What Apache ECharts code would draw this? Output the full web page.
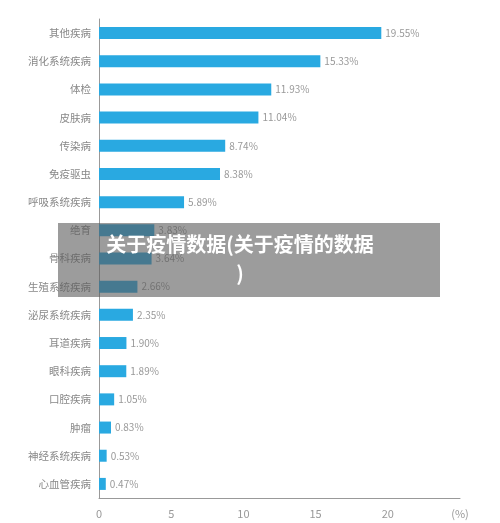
<!DOCTYPE html>
<html><head><meta charset="utf-8">
<script src="https://cdn.jsdelivr.net/npm/echarts@6/dist/echarts.min.js"></script>
<style>html,body{margin:0;padding:0;background:#fff}#c{width:500px;height:523px}</style>
</head><body><div id="c"></div>
<script>
const categories = ['其他疾病','消化系统疾病','体检','皮肤病','传染病','免疫驱虫','呼吸系统疾病','绝育','骨科疾病','生殖系统疾病','泌尿系统疾病','耳道疾病','眼科疾病','口腔疾病','肿瘤','神经系统疾病','心血管疾病'];
const values = [19.55,15.33,11.93,11.04,8.74,8.38,5.89,3.83,3.64,2.66,2.35,1.90,1.89,1.05,0.83,0.53,0.47];
const xTicks = [0,5,10,15,20];
const titleText = '关于疫情数据(关于疫情的数据\n)';
const chart = echarts.init(document.getElementById('c'));
chart.setOption({
  animation:false,
  grid:{left:99,right:40,top:19,bottom:25,containLabel:false},
  xAxis:{type:'value',min:0,max:25,interval:5,
    axisLine:{show:true,lineStyle:{color:'#999'}},axisTick:{show:false},splitLine:{show:false},
    axisLabel:{color:'#999',fontSize:11,fontFamily:'Noto Sans CJK SC',margin:10,
      formatter:v=>xTicks.includes(v)?String(v):'(%)'}},
  yAxis:{type:'category',inverse:true,data:categories,
    axisLine:{show:true,lineStyle:{color:'#999'}},axisTick:{show:false},
    axisLabel:{color:'#888',fontSize:10.5,fontFamily:'Noto Sans CJK SC',margin:8}},
  series:[{type:'bar',data:values,barWidth:12,itemStyle:{color:'#29a9e1'},
    label:{show:true,position:'right',distance:4,color:'#999',fontSize:10,fontFamily:'Noto Sans CJK SC',formatter:p=>p.value.toFixed(2)+'%'}}],
  graphic:[
    {type:'rect',left:58,top:223,shape:{width:382,height:74},style:{fill:'rgba(90,90,90,0.6)'},z:100},
    {type:'text',x:240,y:230,style:{text:titleText,fill:'#fff',font:'bold 20px "Noto Sans CJK SC"',textAlign:'center',lineHeight:29},z:101}
  ]
});
</script></body></html>
